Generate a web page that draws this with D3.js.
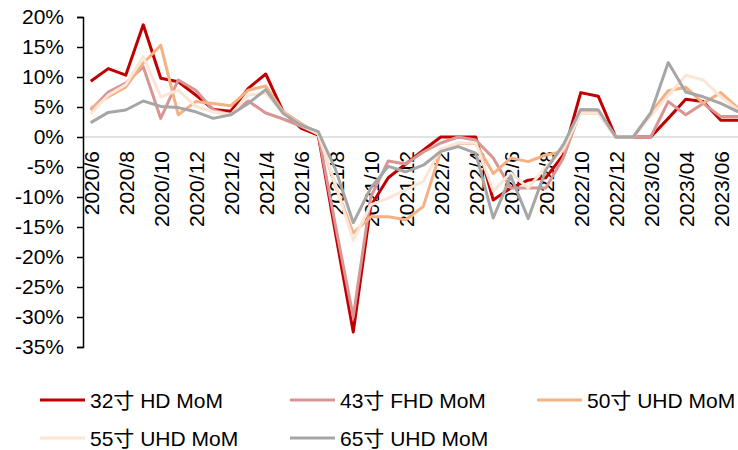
<!DOCTYPE html>
<html>
<head>
<meta charset="utf-8">
<script src="https://cdn.jsdelivr.net/npm/d3@7"></script>
<style>
  body { margin: 0; background: #fff; }
  svg text { font-family: "Liberation Sans", Arial, "Noto Sans CJK SC", sans-serif; fill: #000; }
</style>
</head>
<body>
<svg id="chart" width="738" height="450"></svg>
<script>
// meses 2020/6 .. 2023/07
const months = [
  "2020/6","2020/7","2020/8","2020/9","2020/10","2020/11","2020/12",
  "2021/1","2021/2","2021/3","2021/4","2021/5","2021/6","2021/7","2021/8","2021/9","2021/10","2021/11","2021/12",
  "2022/1","2022/2","2022/3","2022/4","2022/5","2022/6","2022/7","2022/8","2022/9","2022/10","2022/11","2022/12",
  "2023/01","2023/02","2023/03","2023/04","2023/05","2023/06","2023/07"
];

// valores en %
const hd32 = [9.3,11.4,10.3,18.7,9.8,9.2,7.0,4.6,4.3,8.1,10.5,4.2,1.5,0.3,-16.3,-32.5,-11.5,-6.8,-4.5,
  -2.2,0,0,0,-10.5,-8.5,-7.2,-6.8,-3.0,7.4,6.8,0,0,0,3.1,6.3,5.9,2.8,2.8];
const fhd43 = [4.5,7.5,9.0,11.7,3.1,9.5,7.8,4.5,3.7,6.0,4.0,3.0,1.8,0.5,-15,-30,-10,-4,-4.5,
  -2.5,-1,0,-0.5,-3.5,-8.5,-8.5,-8.5,-3.5,4.5,4.5,0,0,0,5.9,3.7,5.6,3.4,3.4];
const uhd50 = [4.8,6.7,8.3,12.3,15.3,3.7,5.9,5.6,5.2,7.8,8.5,4.2,2.3,0.5,-8.3,-16,-13.3,-13.3,-13.8,
  -11.6,-2.4,-1.1,-1.1,-6.1,-3.5,-4.1,-3.0,-2.4,4.0,4.0,0,0,4.0,7.7,8.3,5.6,7.4,4.8];
const uhd55 = [3.9,7.0,8.7,13.4,6.7,7.8,5.1,4.2,3.7,7.0,7.3,4.0,2.0,0.5,-8,-17.2,-11.3,-10.2,-8.8,
  -7.4,-2,-1,-1,-9,-6,-8.5,-5,-2,4.0,4.0,0,0,3.5,6.9,10.3,9.5,6.7,4.5];
const uhd65 = [2.4,4.1,4.5,6.0,5.1,4.9,4.2,3.1,3.7,5.6,7.9,3.9,2.0,0.9,-5.5,-14.3,-8.5,-4.9,-5.8,
  -4.7,-2.4,-1.6,-2.7,-13.5,-6.5,-13.6,-5.5,-1.3,4.6,4.5,0,0,4.0,12.4,7.5,6.7,5.6,4.2];

const seriesNames = ["32寸 HD MoM","43寸 FHD MoM","50寸 UHD MoM","55寸 UHD MoM","65寸 UHD MoM"];
const seriesColors = ["#C00000","#D99594","#F4B183","#FBE5D6","#A6A6A6"];
const yTicks = [20,15,10,5,0,-5,-10,-15,-20,-25,-30,-35];

const series = [hd32, fhd43, uhd50, uhd55, uhd65].map((v, i) => ({
  name: seriesNames[i], color: seriesColors[i], values: v
}));

let svg = d3.select("#chart");

// escalas
let x = d3.scalePoint()
    .domain(months)
    .range([82, 747])
    .padding(0.5);

let y = d3.scaleLinear()
    .domain([-35, 20])
    .range([347, 17]);

// linea del cero
svg.append("line")
    .attr("x1", 83).attr("x2", 738)
    .attr("y1", y(0)).attr("y2", y(0))
    .attr("stroke", "#d9d9d9")
    .attr("stroke-width", 1.5);

// eje y
let yAxis = svg.append("g")
    .attr("transform", "translate(83,0)")
    .call(d3.axisLeft(y).tickValues(yTicks).tickSize(6).tickPadding(13)
        .tickFormat(d => d + "%"));
yAxis.select(".domain").attr("stroke", "#000").attr("stroke-width", 1.5);
yAxis.selectAll(".tick line").attr("stroke", "#000").attr("stroke-width", 1.5);
yAxis.selectAll("text")
    .attr("font-size", "21px")
    .attr("fill", "#000");

// etiquetas del eje x, giradas, colgando de la linea del cero
svg.append("g")
    .selectAll("text")
    .data(months.filter((m, i) => i % 2 === 0))
    .enter()
    .append("text")
    .attr("transform", d => "translate(" + x(d) + ",151) rotate(-90)")
    .attr("dy", "0.38em")
    .attr("text-anchor", "end")
    .attr("font-size", "21px")
    .text(d => d);

// lineas
let line = d3.line()
    .x((d, i) => x(months[i]))
    .y(d => y(d));

svg.append("g")
    .selectAll("path")
    .data(series)
    .enter()
    .append("path")
    .attr("d", d => line(d.values))
    .attr("fill", "none")
    .attr("stroke", d => d.color)
    .attr("stroke-width", 3)
    .attr("stroke-linejoin", "round");

// leyenda
const legendPos = [[40, 400], [290, 400], [537, 400], [40, 438], [290, 438]];
let legend = svg.append("g")
    .selectAll("g")
    .data(series)
    .enter()
    .append("g")
    .attr("transform", (d, i) => "translate(" + legendPos[i][0] + "," + legendPos[i][1] + ")");

legend.append("line")
    .attr("x1", 0).attr("x2", 45)
    .attr("stroke", d => d.color)
    .attr("stroke-width", 3);

legend.append("text")
    .attr("x", 50)
    .attr("dy", "0.36em")
    .attr("font-size", "21px")
    .text(d => d.name);
</script>
</body>
</html>
